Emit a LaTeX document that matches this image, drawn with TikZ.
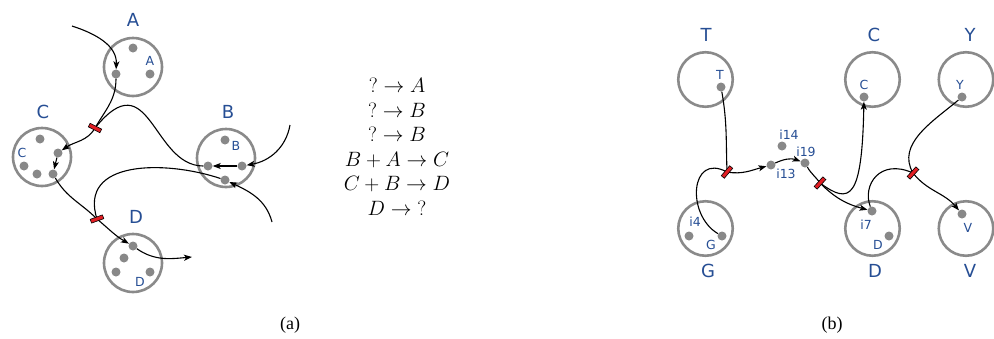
\documentclass[tikz,border=0pt]{standalone}
\usepackage{fontspec}
\usetikzlibrary{arrows.meta}
\newfontfamily\labfont{DejaVu Sans}
\newfontfamily\capfont{Liberation Serif}
\definecolor{labblue}{RGB}{38,78,148}
\definecolor{ringgray}{RGB}{138,138,138}
\definecolor{dotgray}{RGB}{136,136,136}
\definecolor{barred}{RGB}{226,30,36}
\tikzset{
  ringa/.style={circle, draw=ringgray, line width=2.6pt, minimum size=58pt, inner sep=0pt},
  ringb/.style={circle, draw=ringgray, line width=2.6pt, minimum size=54.5pt, inner sep=0pt},
  dot/.style={circle, fill=dotgray, inner sep=0pt, minimum size=9pt},
  biglab/.style={text=labblue, font=\labfont\fontsize{18}{21}\selectfont, inner sep=0pt},
  smalllab/.style={text=labblue, font=\labfont\fontsize{12.5}{14}\selectfont, inner sep=0pt},
  conn/.style={line width=1.1pt, draw=black},
  arr/.style={conn, -{Stealth[length=8pt,width=6pt,inset=2pt]}},
  rbar/.style={rectangle, fill=barred, draw=black, line width=0.6pt, minimum width=13pt, minimum height=4pt, inner sep=0pt},
}
\begin{document}
\begin{tikzpicture}[x=1pt,y=1pt]
\useasboundingbox (0,0) rectangle (994,-338);
% ---------------- panel (a) ----------------
\node[ringa] (circA) at (133,-67) {};
\node[biglab] (labA) at (133,-20) {A};
\node[dot] (a1) at (133,-48) {};
\node[dot] (a2) at (116,-74) {};
\node[dot] (a3) at (150,-74) {};
\node[smalllab] (tA) at (150,-61) {A};

\node[ringa] (circC) at (42,-157) {};
\node[biglab] (labC) at (43,-112) {C};
\node[dot] (c1) at (40,-139) {};
\node[dot] (c2) at (58,-153) {};
\node[dot] (c3) at (24,-166) {};
\node[dot] (c4) at (37,-174) {};
\node[dot] (c5) at (53,-174) {};
\node[smalllab] (tC) at (22,-153) {C};

\node[ringa] (circB) at (226,-158) {};
\node[biglab] (labB) at (228,-112) {B};
\node[dot] (b1) at (225,-140) {};
\node[dot] (b2) at (208,-166) {};
\node[dot] (b3) at (242,-166) {};
\node[dot] (b4) at (225,-180) {};
\node[smalllab] (tB) at (236,-146) {B};

\node[ringa] (circD) at (133,-263) {};
\node[biglab] (labD) at (136,-217) {D};
\node[dot] (d1) at (133,-246) {};
\node[dot] (d2) at (124,-258) {};
\node[dot] (d3) at (116,-272) {};
\node[dot] (d4) at (150,-272) {};
\node[smalllab] (tD) at (140,-282) {D};

\coordinate (sA) at (72,-26);
\coordinate (sB) at (290,-125);
\coordinate (sB2) at (272,-222);
\coordinate (eD) at (192,-257);
\coordinate (rA) at (95,-128);
\coordinate (rD) at (97,-219);

\draw[arr] (sA) to[out=-18,in=88] (a2);
\draw[arr] (a2) to[out=-90,in=60] (rA) to[out=-120,in=35] (c2);
\draw[conn] (b2) .. controls (152,-166) and (150,-60) .. (rA);
\draw[arr] (sB) to[out=-100,in=10] (b3);
\draw[arr] (b3) -- (b2);
\draw[arr] (sB2) to[out=105,in=-25] (b4);
\draw[arr] (c2) -- (c5);
\draw[arr] (c5) to[out=-60,in=135] (rD) to[out=-40,in=150] (d1);
\draw[conn] (b4) .. controls (165,-160) and (78,-160) .. (rD);
\draw[arr] (d1) to[out=-35,in=185] (eD);

\node[rbar, rotate=-27] (barA) at (rA) {};
\node[rbar, rotate=20] (barD) at (rD) {};

% reactions
\node[font=\fontsize{21}{24.5}\selectfont, align=center, inner sep=0pt] (eqs) at (397,-147)
  {$?\to A$\\ $?\to B$\\ $?\to B$\\ $B+A\to C$\\ $C+B\to D$\\ $D\to \mathord{?}$};

% ---------------- panel (b) ----------------
\node[ringb] (circT) at (705.5,-79.5) {};
\node[biglab] (labT) at (706,-35) {T};
\node[dot] (tdot) at (721,-87) {};
\node[smalllab] (tT) at (720,-75) {T};

\node[ringb] (circCb) at (872.5,-79.5) {};
\node[biglab] (labCb) at (874,-35) {C};
\node[dot] (cdot) at (864,-97) {};
\node[smalllab] (tCb) at (864,-85) {C};

\node[ringb] (circY) at (966,-79.5) {};
\node[biglab] (labY) at (970,-35) {Y};
\node[dot] (ydot) at (962,-97) {};
\node[smalllab] (tY) at (960,-85) {Y};

\node[ringb] (circG) at (705.5,-228.5) {};
\node[biglab] (labG) at (708,-271) {G};
\node[dot] (g1) at (689,-236) {};
\node[dot] (g2) at (722,-236) {};
\node[smalllab] (ti4) at (695,-222) {i4};
\node[smalllab] (tG) at (711,-245) {G};

\node[ringb] (circDb) at (872.5,-228.5) {};
\node[biglab] (labDb) at (875,-271) {D};
\node[dot] (i7) at (872,-211) {};
\node[dot] (ddot) at (889,-236) {};
\node[smalllab] (ti7) at (866,-225) {i7};
\node[smalllab] (tDb) at (878,-245) {D};

\node[ringb] (circV) at (966,-228.5) {};
\node[biglab] (labV) at (970,-271) {V};
\node[dot] (vdot) at (962,-214) {};
\node[smalllab] (tV) at (968,-228) {V};

\node[dot] (i14) at (782,-146) {};
\node[smalllab] (ti14) at (789,-135) {i14};
\node[dot] (i13) at (771,-165) {};
\node[smalllab] (ti13) at (786,-174) {i13};
\node[dot] (i19) at (805,-163) {};
\node[smalllab] (ti19) at (806,-152) {i19};

\coordinate (r1) at (727,-172);
\coordinate (r2) at (820,-183);
\coordinate (r3) at (913,-173);

\draw[arr] (tdot) to[out=-80,in=92] (r1) to[out=-10,in=195] (i13);
\draw[conn] (g2) .. controls (686,-215) and (690,-152) .. (r1);
\draw[arr] (i13) to[out=25,in=160] (i19);
\draw[arr] (i19) to[out=-60,in=125] (r2) to[out=-45,in=165] (i7);
\draw[arr] (r2) .. controls (850,-205) and (862,-200) .. (cdot);
\draw[arr] (ydot) to[out=-140,in=120] (r3) to[out=-52,in=130] (vdot);
\draw[conn] (i7) .. controls (862,-185) and (880,-158) .. (r3);

\node[rbar, rotate=50] (bar1) at (r1) {};
\node[rbar, rotate=48] (bar2) at (r2) {};
\node[rbar, rotate=48] (bar3) at (r3) {};

% captions
\node[font=\capfont\fontsize{18}{21}\selectfont] (capa) at (290,-325) {(a)};
\node[font=\capfont\fontsize{18}{21}\selectfont] (capb) at (832,-325) {(b)};
\end{tikzpicture}
\end{document}
